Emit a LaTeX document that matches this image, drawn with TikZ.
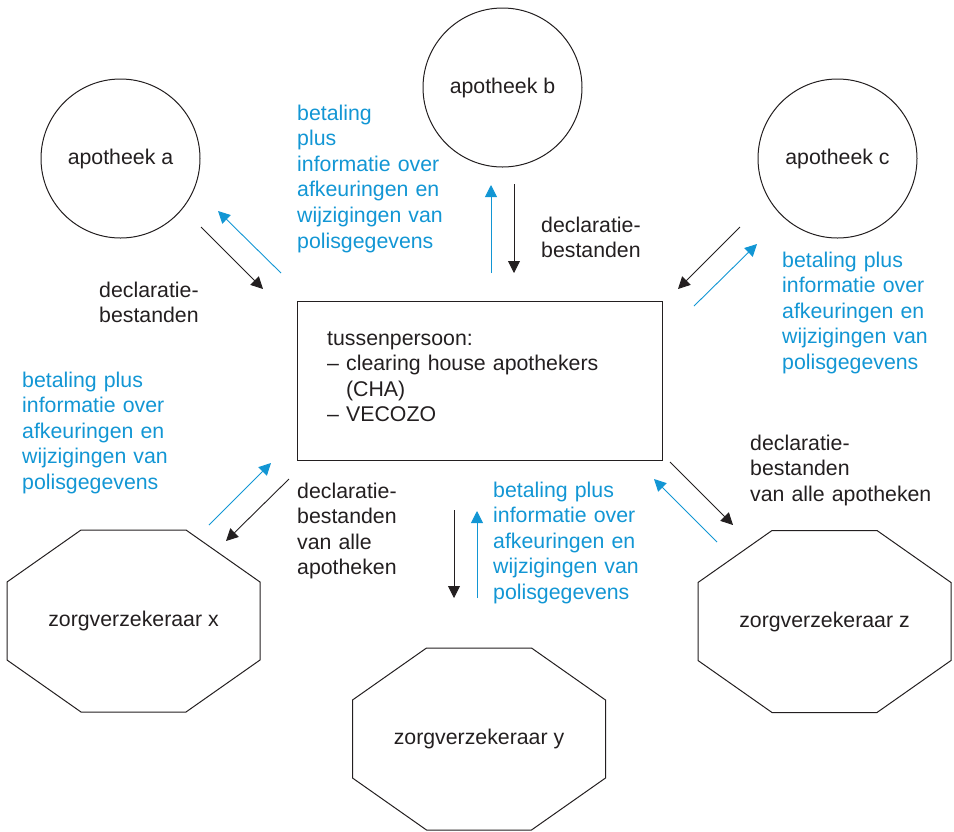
\documentclass[tikz,border=0pt]{standalone}
\usepackage{fontspec}
\setmainfont{Liberation Sans}
\usetikzlibrary{arrows.meta,calc}
\definecolor{infoblue}{RGB}{18,150,212}
\definecolor{ink}{RGB}{35,31,32}
\newcommand\octoutline[1]{%
  \draw[octline] ($(#1.center)+(-52.5,-91)$) -- ($(#1.center)+(52.5,-91)$)
    -- ($(#1.center)+(126.5,-39)$) -- ($(#1.center)+(126.5,39)$)
    -- ($(#1.center)+(52.5,91)$) -- ($(#1.center)+(-52.5,91)$)
    -- ($(#1.center)+(-126.5,39)$) -- ($(#1.center)+(-126.5,-39)$) -- cycle;}
\begin{document}
\begin{tikzpicture}[x=1pt,y=-1pt,
 every node/.style={font=\fontsize{21.3pt}{25.6pt}\selectfont, text=ink, inner sep=0pt},
 party/.style={circle, draw=ink, line width=1pt, minimum size=159pt},
 hub/.style={rectangle, draw=ink, line width=1pt, minimum width=365pt, minimum height=159pt},
 insurer/.style={rectangle, minimum width=253pt, minimum height=182pt},
 octline/.style={draw=ink, line width=1pt, line join=miter},
 lbl/.style={anchor=base west, text width=200pt, align=left},
 bluelbl/.style={lbl, text=infoblue},
 decl/.style={draw=ink, line width=0.9pt, -{Triangle[length=12pt,width=12pt]}},
 pay/.style={draw=infoblue, line width=0.9pt, -{Triangle[length=12pt,width=12pt]}},
]
\useasboundingbox (0,0) rectangle (954,831);

% pharmacies
\node[party] (pa) at (120.5,158.5) {apotheek a};
\node[party] (pb) at (502.5,87.5) {apotheek b};
\node[party] (pc) at (837.5,158.5) {apotheek c};

% intermediary
\node[hub] (tp) at (479.5,380.5) {};
\node[lbl, text width=320pt] (tptext) at (327,345) {tussenpersoon:\\
– clearing house apothekers\\
\phantom{– }(CHA)\\
– VECOZO};

% insurers
\node[insurer] (zx) at (133.5,621) {zorgverzekeraar x};
\node[insurer] (zy) at (479,739) {zorgverzekeraar y};
\node[insurer] (zz) at (824.5,621.5) {zorgverzekeraar z};
\octoutline{zx}
\octoutline{zy}
\octoutline{zz}

% arrow end points
\coordinate (a1) at (201,227); \coordinate (a2) at (263,289);
\coordinate (a3) at (281,273); \coordinate (a4) at (218,211);
\coordinate (b1) at (491,273); \coordinate (b2) at (491,185);
\coordinate (b3) at (514,184); \coordinate (b4) at (514,273);
\coordinate (c1) at (740,227); \coordinate (c2) at (678,289);
\coordinate (c3) at (694,306); \coordinate (c4) at (757,244);
\coordinate (x1) at (209,525); \coordinate (x2) at (271,463);
\coordinate (x3) at (289,479); \coordinate (x4) at (226,541);
\coordinate (y1) at (454,510); \coordinate (y2) at (454,598);
\coordinate (y3) at (477,598); \coordinate (y4) at (477,511);
\coordinate (z1) at (717,542); \coordinate (z2) at (654,479);
\coordinate (z3) at (670,462); \coordinate (z4) at (733,525);

\draw[decl] (a1) -- (a2);
\draw[pay]  (a3) -- (a4);
\draw[pay]  (b1) -- (b2);
\draw[decl] (b3) -- (b4);
\draw[decl] (c1) -- (c2);
\draw[pay]  (c3) -- (c4);
\draw[pay]  (x1) -- (x2);
\draw[decl] (x3) -- (x4);
\draw[decl] (y1) -- (y2);
\draw[pay]  (y3) -- (y4);
\draw[pay]  (z1) -- (z2);
\draw[decl] (z3) -- (z4);

% labels
\node[bluelbl] (t1) at (297,120) {betaling\\plus\\informatie over\\afkeuringen en\\wijzigingen van\\polisgegevens};
\node[lbl] (t2) at (99,297) {declaratie-\\bestanden};
\node[lbl] (t3) at (541,232) {declaratie-\\bestanden};
\node[bluelbl] (t4) at (782,267) {betaling plus\\informatie over\\afkeuringen en\\wijzigingen van\\polisgegevens};
\node[bluelbl] (t5) at (22,387) {betaling plus\\informatie over\\afkeuringen en\\wijzigingen van\\polisgegevens};
\node[lbl] (t6) at (297,498) {declaratie-\\bestanden\\van alle\\apotheken};
\node[bluelbl] (t7) at (493,497) {betaling plus\\informatie over\\afkeuringen en\\wijzigingen van\\polisgegevens};
\node[lbl] (t8) at (750,450) {declaratie-\\bestanden\\van alle apotheken};
\end{tikzpicture}
\end{document}
